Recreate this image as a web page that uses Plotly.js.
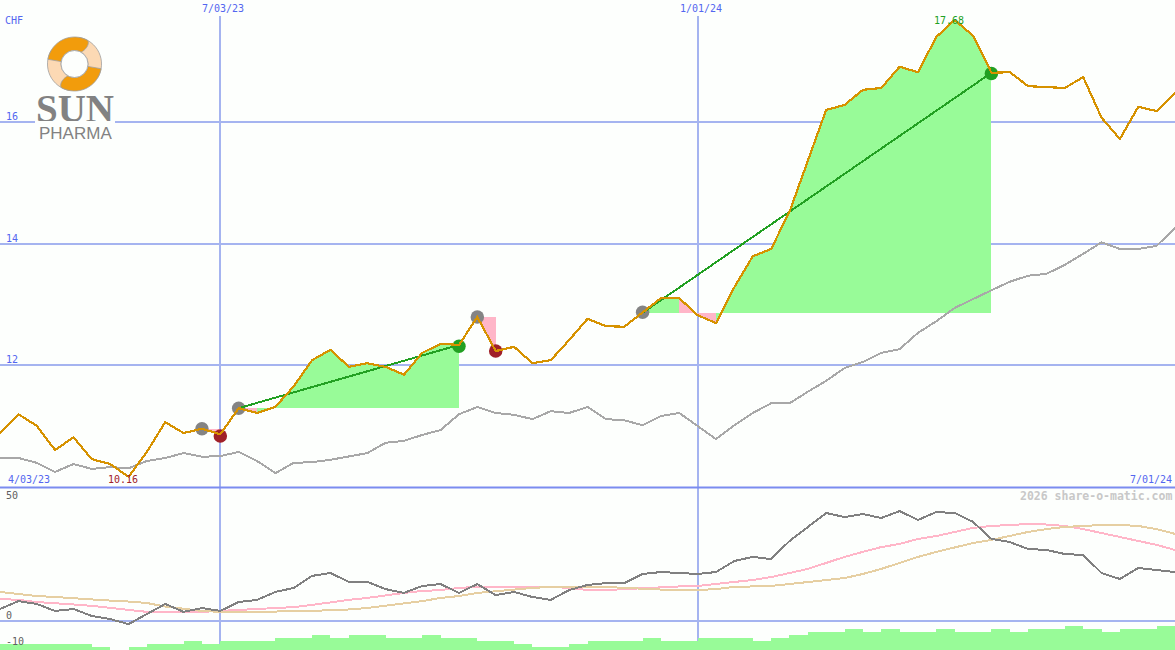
<!DOCTYPE html>
<html><head><meta charset="utf-8">
<script src="https://cdn.plot.ly/plotly-3.0.1.min.js"></script>
<style>html,body{margin:0;padding:0;background:#fdfffd;overflow:hidden}
.scatterlayer path{shape-rendering:crispEdges}
.scatterlayer .points path{shape-rendering:auto}</style>
</head><body><div id="chart" style="width:1175px;height:650px"></div>
<script>
const dates=['2023-04-10','2023-04-17','2023-04-24','2023-05-01','2023-05-08','2023-05-15','2023-05-22','2023-05-29','2023-06-05','2023-06-12','2023-06-19','2023-06-26','2023-07-03','2023-07-10','2023-07-17','2023-07-24','2023-07-31','2023-08-07','2023-08-14','2023-08-21','2023-08-28','2023-09-04','2023-09-11','2023-09-18','2023-09-25','2023-10-02','2023-10-09','2023-10-16','2023-10-23','2023-10-30','2023-11-06','2023-11-13','2023-11-20','2023-11-27','2023-12-04','2023-12-11','2023-12-18','2023-12-25','2024-01-01','2024-01-08','2024-01-15','2024-01-22','2024-01-29','2024-02-05','2024-02-12','2024-02-19','2024-02-26','2024-03-04','2024-03-11','2024-03-18','2024-03-25','2024-04-01','2024-04-08','2024-04-15','2024-04-22','2024-04-29','2024-05-06','2024-05-13','2024-05-20','2024-05-27','2024-06-03','2024-06-10','2024-06-17','2024-06-24','2024-07-01'];
const price=[10.88,11.19,11.00,10.60,10.81,10.45,10.37,10.16,10.57,11.06,10.88,10.95,10.86,11.29,11.21,11.31,11.65,12.08,12.25,11.97,12.03,11.97,11.84,12.20,12.35,12.33,12.79,12.23,12.30,12.03,12.08,12.41,12.76,12.64,12.63,12.86,13.10,13.10,12.82,12.69,13.28,13.79,13.91,14.52,15.37,16.20,16.28,16.53,16.56,16.91,16.82,17.40,17.68,17.42,16.81,16.82,16.59,16.58,16.56,16.74,16.07,15.72,16.25,16.18,16.48];
const average=[10.47,10.47,10.39,10.24,10.37,10.29,10.32,10.30,10.42,10.47,10.55,10.49,10.50,10.57,10.42,10.22,10.39,10.40,10.44,10.49,10.55,10.72,10.75,10.85,10.93,11.19,11.31,11.21,11.18,11.11,11.24,11.21,11.31,11.11,11.09,11.01,11.16,11.21,11.00,10.78,11.01,11.21,11.37,11.37,11.56,11.74,11.95,12.05,12.20,12.26,12.53,12.72,12.94,13.09,13.23,13.37,13.47,13.50,13.65,13.83,14.02,13.91,13.91,13.96,14.26];
const oscillator=[5.0,8.3,7.1,4.2,5.0,2.1,0.8,-1.3,2.9,7.1,3.8,5.4,4.2,7.9,8.8,12.1,13.8,18.8,20,16.3,16.3,13.3,11.7,14.6,15.4,11.7,15.4,10.8,12.1,10,8.8,12.9,15,15.8,15.8,19.6,20.4,20,19.6,20.4,25,26.7,25.8,33.3,39.2,45,43.3,44.6,42.9,45.8,42.1,45.4,45,41.3,34.2,32.9,30,29.6,27.9,27.5,20,17.5,22.1,21.3,20.4];
const signalFast=[9.2,8.8,7.9,7.5,6.9,6.3,5.4,4.6,3.8,3.8,3.8,3.8,4.2,4.6,5.0,5.4,5.8,6.7,7.9,8.8,9.6,10.8,11.7,12.5,12.9,13.8,14.2,14.2,14.2,14.2,14.2,13.8,12.9,12.9,13.3,13.8,14.2,14.4,14.6,15.4,16.3,17.1,18.3,20,21.7,24.2,26.7,28.8,30.8,32.1,34.2,35.4,37.1,38.8,39.6,40,40.4,40.2,39.6,38.3,36.7,35,33.3,31.7,29.6];
const signalSlow=[12.1,11.3,10.4,10.0,9.4,9.0,8.5,8.1,7.5,6.0,5.0,4.2,3.8,3.8,3.8,3.8,4.0,4.2,4.4,4.8,5.4,6.3,7.5,8.3,9.6,10.4,11.7,12.5,13.3,13.8,14.2,14.2,14.4,14.2,13.8,13.3,13.1,12.9,12.9,13.3,14.2,14.4,14.6,15.4,16.3,17.1,17.9,19.6,21.7,24.2,26.7,28.8,30.8,32.5,33.8,35.4,37.1,38.3,39.2,39.6,40,40,39.6,38.3,36.3];
const volumeLevel=[2,2,2,2,2,1,0,1,2,2,3,2,3,3,3,4,4,5,4,5,5,4,4,5,4,4,3,3,2,1,1,2,3,3,3,4,3,3,4,4,4,3,4,5,6,6,7,6,7,6,6,7,6,6,7,6,7,7,8,7,6,7,7,8,8];
const gainFills=[[14,25,11.29],[35,37,12.86],[39,54,12.86]];
const lossFills=[[11,12,10.95],[13,14,11.29],[26,27,12.79],[37,39,12.86]];
const tradeLines=[[13,25],[35,54]];
const entryIdx=[11,13,26,35], entryPrice=[10.95,11.29,12.79,12.87];
const lossIdx=[12,27], lossPrice=[10.83,12.23];
const gainIdx=[25,54], gainPrice=[12.31,16.80];
const dateTicks=['2023-07-03','2024-01-01'], dateLabels=['7/03/23','1/01/24'];
const priceTicks=[12,14,16];
const oscTicks=[50,0,-10];

const GRID='#a5b4f0',BLUE='#5366f0',BG='#fdfffd',ORANGE='#d69200',GREEN='#98fb98',PINK='#ffb6c8',TRADE='#22a022';
const MONO='"DejaVu Sans Mono",monospace';
const poly=(a,color)=>({x:dates.slice(a[0],a[1]+1).concat([dates[a[1]],dates[a[0]]]),y:price.slice(a[0],a[1]+1).concat([a[2],a[2]]),
  mode:'none',fill:'toself',fillcolor:color,xaxis:'x',yaxis:'y',hoverinfo:'skip',showlegend:false});
const line=(x,y,color,width,ya)=>({x,y,mode:'lines',line:{color,width},xaxis:ya==='y'?'x':'x2',yaxis:ya,hoverinfo:'skip',showlegend:false});
const dots=(idx,y,color)=>({x:idx.map(i=>dates[i]),y,mode:'markers',marker:{color,size:13.5},xaxis:'x',yaxis:'y',hoverinfo:'skip',showlegend:false});
const traces=[
 {x:dates,y:volumeLevel,mode:'lines',line:{shape:'hv',color:GREEN,width:0},fill:'tozeroy',fillcolor:GREEN,xaxis:'x2',yaxis:'y3',hoverinfo:'skip',showlegend:false},
 line(dates,signalFast,'#ffb6c8',2,'y2'),
 line(dates,signalSlow,'#e6cfa2',2,'y2'),
 line(dates,oscillator,'#808080',2,'y2'),
 ...gainFills.map(a=>poly(a,GREEN)),
 ...lossFills.map(a=>poly(a,PINK)),
 line(dates,average,'#a8a8a8',2,'y'),
 dots(entryIdx,entryPrice,'#848484'),dots(lossIdx,lossPrice,'#a02028'),dots(gainIdx,gainPrice,'#22a022'),
 ...tradeLines.map(t=>line([dates[t[0]],dates[t[1]]],[price[t[0]],price[t[1]]],TRADE,2,'y')),
 line(dates,price,ORANGE,2.2,'y')
];
const ann=(text,x,y,color,o)=>Object.assign({text,x,y,xref:'paper',yref:'paper',showarrow:false,xanchor:'left',yanchor:'middle',
  font:{family:MONO,size:10,color},borderpad:0,borderwidth:0},o||{});
const py=p=>1-p/650;
const annotations=[
 ann('CHF',5/1175,py(21),BLUE),
 ...dateTicks.map((d,i)=>({text:dateLabels[i],x:d,xref:'x',y:py(8),yref:'paper',xshift:3,showarrow:false,xanchor:'center',yanchor:'middle',font:{family:MONO,size:10,color:BLUE},borderpad:0})),
 ...priceTicks.map(v=>({text:String(v),x:5/1175,xref:'paper',y:v,yref:'y',yanchor:'bottom',xanchor:'left',yshift:-1,showarrow:false,font:{family:MONO,size:10,color:BLUE},borderpad:0})),
 ...oscTicks.map(v=>({text:String(v),x:5/1175,xref:'paper',y:v,yref:'y2',yanchor:'bottom',xanchor:'left',yshift:v<0?-3:-1,showarrow:false,font:{family:MONO,size:10,color:'#606060'},borderpad:0})),
 ann('4/03/23',8/1175,py(479.5),BLUE),
 ann('7/01/24',1172/1175,py(479.5),BLUE,{xanchor:'right'}),
 {text:'10.16',x:dates[7],xref:'x',y:py(479.5),yref:'paper',xshift:-6,showarrow:false,xanchor:'center',yanchor:'middle',font:{family:MONO,size:10,color:'#a02028'},borderpad:0},
 {text:'17.68',x:dates[52],xref:'x',y:py(21),yref:'paper',xshift:-6,showarrow:false,xanchor:'center',yanchor:'middle',font:{family:MONO,size:10,color:'#22a022'},borderpad:0},
 ann('2026 share-o-matic.com',1172/1175,py(496),'#c8c8c8',{xanchor:'right',font:{family:MONO,size:11.5,color:'#c8c8c8',weight:700}}),
 {text:'SUN',x:75/1175,xref:'paper',y:py(108),yref:'paper',showarrow:false,xanchor:'center',yanchor:'middle',font:{family:'"Liberation Serif",serif',size:39,color:'#828282',weight:700},borderpad:0,height:26},
 {text:'PHARMA',x:75/1175,xref:'paper',y:py(133),yref:'paper',showarrow:false,xanchor:'center',yanchor:'middle',font:{family:'"Liberation Sans",sans-serif',size:17,color:'#828282'},borderpad:0,height:13}
];
const petal='M-26.6,-4.7 A27,27 0 0 1 13.5,-23.4 C15,-19 11,-14 6.5,-11.8 A13.5,13.5 0 0 0 -13.3,-2.4 Z';
const logoSvg=`<svg xmlns="http://www.w3.org/2000/svg" width="80" height="105" viewBox="0 0 80 105">
<rect x="0" y="70" width="80" height="35" fill="${BG}"/>
<g transform="translate(39.5,30)" stroke="#a0a0a0" stroke-width="0.8">
<path d="${petal}" transform="rotate(90)" fill="#fcd9b4"/>
<path d="${petal}" transform="rotate(270)" fill="#fcd9b4"/>
<path d="${petal}" fill="#f29c0c"/>
<path d="${petal}" transform="rotate(180)" fill="#f29c0c"/>
<circle cx="0" cy="0" r="13.5" fill="${BG}"/>
</g></svg>`;
const layout={width:1175,height:650,autosize:false,margin:{l:0,r:0,t:0,b:0},paper_bgcolor:BG,plot_bgcolor:BG,showlegend:false,
 xaxis:{type:'date',domain:[0,1],range:['2023-04-10','2024-07-01'],anchor:'y',tickmode:'array',tickvals:dateTicks,showticklabels:false,ticks:'',showgrid:true,gridcolor:GRID,gridwidth:2,zeroline:false,showline:false},
 xaxis2:{type:'date',domain:[0,1],range:['2023-04-10','2024-07-01'],anchor:'y2',tickmode:'array',tickvals:dateTicks,showticklabels:false,ticks:'',showgrid:true,gridcolor:GRID,gridwidth:2,zeroline:false,showline:false},
 yaxis:{domain:[1-487/650,1-16/650],range:[9.992,17.745],tickmode:'array',tickvals:priceTicks,showticklabels:false,ticks:'',showgrid:true,gridcolor:GRID,gridwidth:2,zeroline:false,anchor:'x'},
 yaxis2:{domain:[0,1-487/650],range:[-12.08,55.83],tickmode:'array',tickvals:[0],showticklabels:false,ticks:'',showgrid:true,gridcolor:GRID,gridwidth:2,zeroline:false,anchor:'x2'},
 yaxis3:{domain:[0,1-487/650],range:[0,54.33],overlaying:'y2',showticklabels:false,ticks:'',showgrid:false,zeroline:false,anchor:'x2'},
 shapes:[{type:'line',xref:'paper',yref:'paper',x0:0,x1:1,y0:py(487.5),y1:py(487.5),line:{color:'#7b8cf0',width:2},layer:'above'}],
 images:[{source:'data:image/svg+xml;charset=utf-8,'+encodeURIComponent(logoSvg),xref:'paper',yref:'paper',x:35/1175,y:py(34),sizex:80/1175,sizey:105/650,sizing:'stretch',xanchor:'left',yanchor:'top',layer:'above'}],
 annotations
};
Plotly.newPlot('chart',traces,layout,{staticPlot:true,displayModeBar:false});
</script></body></html>
